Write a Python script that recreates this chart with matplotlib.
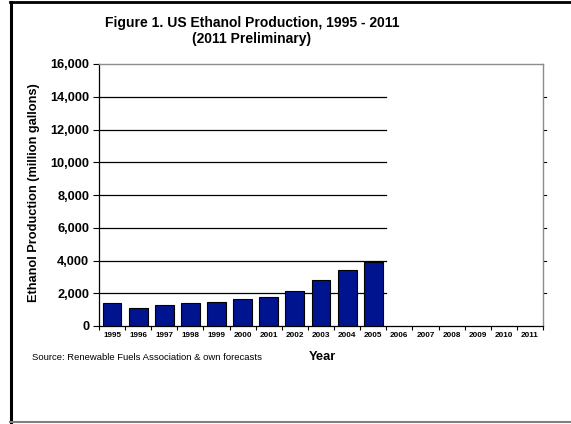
import matplotlib
matplotlib.use("Agg")
import matplotlib.pyplot as plt
from matplotlib.lines import Line2D

plt.rcParams['font.family'] = ['Liberation Sans', 'DejaVu Sans']

years = ['1995', '1996', '1997', '1998', '1999', '2000', '2001', '2002', '2003',
         '2004', '2005', '2006', '2007', '2008', '2009', '2010', '2011']
production = [1400, 1100, 1300, 1400, 1470, 1630, 1770, 2130, 2800, 3400, 3900]
yticks = [0, 2000, 4000, 6000, 8000, 10000, 12000, 14000, 16000]
ytick_labels = ['0', '2,000', '4,000', '6,000', '8,000', '10,000', '12,000', '14,000', '16,000']

W, H = 571, 424
fig = plt.figure(figsize=(W / 100, H / 100), dpi=100)
ax = fig.add_axes([99 / W, 1 - 326 / H, (543 - 99) / W, (326 - 64) / H])

# gridlines only across the data categories
for v in yticks[1:-1]:
    ax.plot([-0.5, len(production) - 0.5], [v, v], color='black', lw=0.9, zorder=1)

x = list(range(len(production)))
ax.bar(x, production, width=0.72, color='#001490', edgecolor='black', lw=0.8, zorder=3)

ax.set_xlim(-0.5, len(years) - 0.5)
ax.set_ylim(0, 16000)
ax.set_yticks(yticks)
ax.set_yticklabels(ytick_labels, fontsize=9.2, fontweight='bold')
ax.tick_params(axis='y', direction='out', length=4, width=0.8, pad=3)

ax.set_xticks(range(len(years)))
ax.set_xticklabels(years, fontsize=5.9, fontweight='bold')
ax.set_xticks([i - 0.5 for i in range(len(years) + 1)], minor=True)
ax.tick_params(axis='x', which='major', length=0, pad=4)
ax.tick_params(axis='x', which='minor', direction='out', length=3, width=0.8)

# right spine ticks
for v in yticks[1:-1]:
    ax.plot([1.0, 1.007], [v, v], transform=ax.get_yaxis_transform(), color='black',
            lw=0.8, clip_on=False)

for s in ['top', 'right']:
    ax.spines[s].set_color('#8c8c8c')
    ax.spines[s].set_linewidth(1.0)
for s in ['left', 'bottom']:
    ax.spines[s].set_color('black')
    ax.spines[s].set_linewidth(0.9)

ax.set_ylabel('Ethanol Production (million gallons)', fontsize=9.2, fontweight='bold')
ax.yaxis.set_label_coords(-(99 - 40) / (543 - 99), (326 - 193) / (326 - 64))
ax.set_xlabel('Year', fontsize=9.3, fontweight='bold')
ax.xaxis.set_label_coords((322 - 99) / (543 - 99), -(357 - 326) / (326 - 64))
ax.xaxis.label.set_va('center')

fig.text(252 / W, 1 - 31 / H, 'Figure 1. US Ethanol Production, 1995 - 2011\n(2011 Preliminary)',
         ha='center', va='center', fontsize=10, fontweight='bold', linespacing=1.1)
fig.text(32 / W, 1 - 357 / H, 'Source: Renewable Fuels Association & own forecasts',
         ha='left', va='center', fontsize=6.8)

# outer frame
fig.add_artist(Line2D([11 / W, 11 / W], [1 - 2 / H, 1 - 422 / H], color='black', lw=2.2,
                      transform=fig.transFigure))
fig.add_artist(Line2D([10 / W, 1.0], [1 - 2 / H, 1 - 2 / H], color='black', lw=2.0,
                      transform=fig.transFigure))
fig.add_artist(Line2D([10 / W, 1.0], [1 - 422 / H, 1 - 422 / H], color='#808080', lw=1.5,
                      transform=fig.transFigure))

fig.savefig('out.png', dpi=100)
